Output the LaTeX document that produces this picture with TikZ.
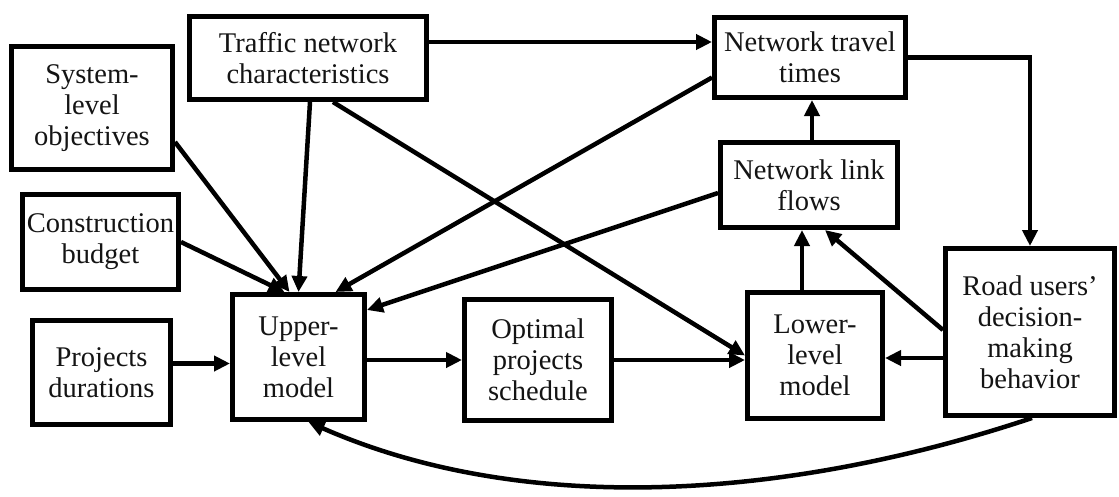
\documentclass[tikz,border=0pt]{standalone}
\usepackage{fontspec}
\setmainfont{Liberation Serif}
\usetikzlibrary{arrows.meta}
\begin{document}
\begin{tikzpicture}[x=1pt,y=-1pt,
  box/.style={draw=black, line width=5pt, fill=white, align=center,
    inner sep=0pt, text=black!92,
    font=\fontsize{28.5}{31}\selectfont},
  arr/.style={line width=4.5pt, -{Triangle[length=16pt,width=15pt]}}]

% canvas
\fill[white] (0,0) rectangle (1119,496);
\useasboundingbox (0,0) rectangle (1119,496);

% boxes
\node[box, minimum width=237pt, minimum height=83pt]  (traffic)  at (308,58)     {Traffic network\\characteristics};
\node[box, minimum width=161pt, minimum height=123pt] (sys)      at (92,108)     {System-\\level\\objectives};
\node[box, minimum width=191pt, minimum height=80pt]  (travel)   at (810,57.5)   {Network travel\\times};
\node[box, minimum width=177pt, minimum height=85pt]  (flows)    at (809,185)    {Network link\\flows};
\node[box, minimum width=156pt, minimum height=95pt]  (constr)   at (100.5,242)  {Construction\\budget};
\node[box, minimum width=138pt, minimum height=104pt] (projects) at (101.5,372.5) {Projects\\durations};
\node[box, minimum width=132pt, minimum height=125pt] (upper)    at (298.5,357)  {Upper-\\level\\model};
\node[box, minimum width=147pt, minimum height=121pt] (optimal)  at (538,360)    {Optimal\\projects\\schedule};
\node[box, minimum width=135pt, minimum height=126pt] (lower)    at (815,355.5)  {Lower-\\level\\model};
\node[box, minimum width=169pt, minimum height=167pt] (road)     at (1030,332)   {Road users’\\decision-\\making\\behavior};

% connectors
\draw[arr] ([yshift=16pt]traffic.east) -- ([yshift=16pt]traffic.east -| travel.west);
\draw[arr] (travel.east) -| (road.north);
\draw[arr] ([xshift=3pt]flows.north) -- ([xshift=3pt]flows.north |- travel.south);
\draw[arr] ([xshift=-13pt]lower.north) -- ([xshift=-13pt]lower.north |- flows.south);
\draw[arr] ([yshift=2pt]road.west) -- ([xshift=16pt]flows.south);
\draw[arr] ([yshift=-26pt]road.west) -- ([yshift=-26pt]road.west -| lower.east);
\draw[arr] (optimal.east) -- (optimal.east -| lower.west);
\draw[arr] (upper.east |- optimal.west) -- (optimal.west);
\draw[arr] ([yshift=9pt]projects.east) -- ([yshift=9pt]projects.east -| upper.west);
\draw[arr] (constr.east) -- ([xshift=-14pt]upper.north);
\draw[arr] ([yshift=-34pt]sys.east) -- ([xshift=-9pt]upper.north);
\draw[arr] ([xshift=2pt]traffic.south) -- ([xshift=0pt]upper.north);
\draw[arr] ([xshift=25pt]traffic.south) -- (lower.west);
\draw[arr] ([yshift=-20pt]travel.west) -- ([xshift=37pt]upper.north);
\draw[arr] ([yshift=-8pt]flows.west) -- ([yshift=47pt]upper.east);
\draw[arr] ([xshift=2pt]road.south) .. controls (780,502) and (520,515) .. ([xshift=10pt]upper.south);

\end{tikzpicture}
\end{document}
